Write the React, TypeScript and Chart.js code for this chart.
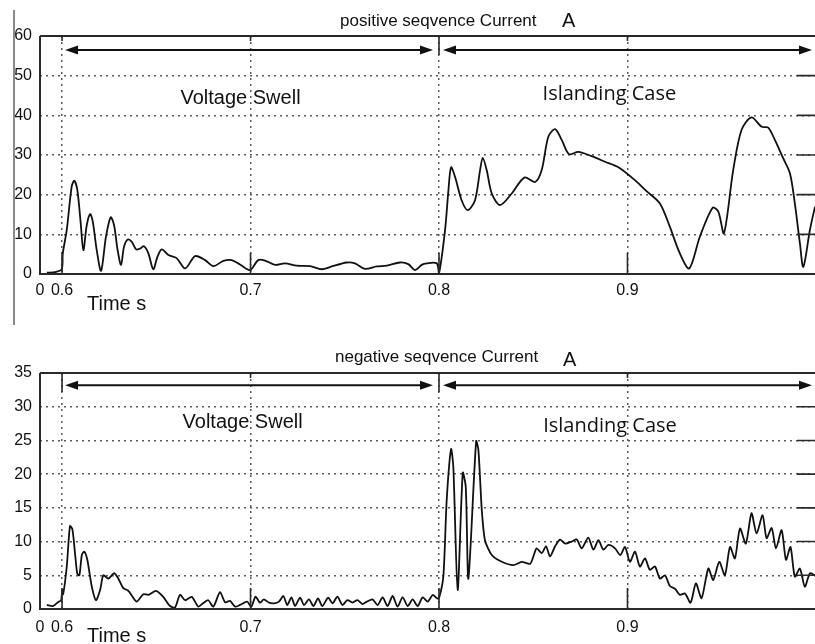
import React, { useEffect, useRef } from "react";
import { Chart, registerables } from "chart.js";

Chart.register(...registerables);

// ---------- shared axis data ----------
const xMin = 0.5883;
const xMax = 0.9995;
const xTickValues = [0.5883, 0.6, 0.7, 0.8, 0.9];
const xTickLabels = ["0", "0.6", "0.7", "0.8", "0.9"];
const majorTimes = [0.6, 0.7, 0.8, 0.9];

// ---------- positive sequence current ----------
const posTitle = "positive seqvence Current";
const posYTicks = [0, 10, 20, 30, 40, 50, 60];
const posTimes = [
  0.5919, 0.5963, 0.5998, 0.6004, 0.6025, 0.6051, 0.6065, 0.6081, 0.6099, 0.6113,
  0.6131, 0.6149, 0.6163, 0.6184, 0.6207, 0.6233, 0.6258, 0.6276, 0.6295, 0.6313,
  0.6329, 0.6349, 0.637, 0.6393, 0.6414, 0.6435, 0.6458, 0.6484, 0.6506, 0.6529,
  0.6564, 0.6608, 0.6653, 0.6706, 0.6759, 0.6803, 0.6856, 0.69, 0.6944, 0.6997,
  0.7041, 0.7077, 0.713, 0.7183, 0.7245, 0.7316, 0.7378, 0.7431, 0.751, 0.7554,
  0.7607, 0.7669, 0.7723, 0.7793, 0.7837, 0.7873, 0.7908, 0.7935, 0.7988, 0.8,
  0.8032, 0.805, 0.8064, 0.8085, 0.812, 0.8152, 0.8191, 0.8218, 0.8232, 0.8253,
  0.828, 0.8324, 0.8386, 0.8453, 0.851, 0.8545, 0.858, 0.8616, 0.8651, 0.869,
  0.8739, 0.881, 0.8881, 0.8952, 0.9048, 0.9101, 0.9172, 0.9225, 0.9278, 0.9328,
  0.9384, 0.9452, 0.9482, 0.9512, 0.9561, 0.9605, 0.9658, 0.9712, 0.9747, 0.9782,
  0.9826, 0.9862, 0.9888, 0.9915, 0.9933, 0.9968, 0.9995,
];
const posValues = [
  0.33, 0.5, 1.2, 5.2, 11.1, 22.0, 23.5, 21.2, 12.8, 6.0,
  12.3, 15.1, 13.2, 6.0, 0.8, 9.4, 14.3, 12.3, 6.0, 2.3,
  6.9, 8.7, 8.1, 6.2, 6.4, 7.0, 5.2, 1.2, 4.3, 6.2,
  4.8, 4.0, 1.4, 4.5, 3.5, 2.0, 3.3, 3.5, 2.4, 1.0,
  3.5, 3.4, 2.3, 2.7, 2.1, 2.0, 1.2, 1.9, 2.9, 2.7,
  1.3, 1.9, 2.1, 2.9, 2.5, 1.0, 2.3, 2.7, 2.7, 0.2,
  11.0, 21.1, 26.9, 24.5, 18.6, 16.1, 18.6, 26.2, 29.3, 26.2,
  20.3, 17.4, 20.3, 24.3, 23.2, 26.2, 34.6, 36.5, 33.8, 30.2,
  30.8, 29.7, 28.3, 26.9, 23.3, 20.9, 17.8, 11.9, 5.2, 1.4,
  9.4, 16.7, 15.7, 10.3, 26.2, 36.3, 39.5, 37.1, 36.9, 33.8,
  29.2, 25.4, 17.8, 7.7, 1.8, 11.1, 17.0,
];

// ---------- negative sequence current ----------
const negTitle = "negative seqvence Current";
const negYTicks = [0, 5, 10, 15, 20, 25, 30, 35];
const negTimes = [
  0.5919, 0.5952, 0.598, 0.5995, 0.6001, 0.6006, 0.6025, 0.6042, 0.6055, 0.6069,
  0.6081, 0.6092, 0.6105, 0.6118, 0.6134, 0.6158, 0.618, 0.6202, 0.6219, 0.6246,
  0.6276, 0.6299, 0.6325, 0.6352, 0.6396, 0.6431, 0.6458, 0.6499, 0.6537, 0.6573,
  0.66, 0.6626, 0.6653, 0.6688, 0.6723, 0.675, 0.6776, 0.6803, 0.6838, 0.6865,
  0.6891, 0.6918, 0.6944, 0.6982, 0.7004, 0.7027, 0.705, 0.7071, 0.7098, 0.7124,
  0.7151, 0.7174, 0.7195, 0.7217, 0.7236, 0.7263, 0.7284, 0.731, 0.7334, 0.7358,
  0.7381, 0.7412, 0.7435, 0.7461, 0.7488, 0.7514, 0.7541, 0.7568, 0.7594, 0.7617,
  0.7647, 0.7674, 0.7701, 0.7727, 0.7754, 0.778, 0.7807, 0.7834, 0.786, 0.7887,
  0.7913, 0.794, 0.7967, 0.799, 0.8, 0.8023, 0.8041, 0.8064, 0.8076, 0.8099,
  0.8126, 0.8142, 0.8156, 0.8197, 0.8209, 0.8227, 0.8244, 0.828, 0.8333, 0.8395,
  0.8439, 0.8483, 0.8501, 0.8518, 0.8545, 0.8568, 0.8589, 0.8616, 0.8642, 0.8669,
  0.8704, 0.8731, 0.8757, 0.8792, 0.8819, 0.8846, 0.8872, 0.8899, 0.8934, 0.8962,
  0.8987, 0.9013, 0.904, 0.9066, 0.9093, 0.9119, 0.9146, 0.9172, 0.9199, 0.9225,
  0.9252, 0.9278, 0.9305, 0.9335, 0.9363, 0.9393, 0.9429, 0.9455, 0.9487, 0.9517,
  0.9544, 0.957, 0.9597, 0.9628, 0.9658, 0.9685, 0.9717, 0.9738, 0.9765, 0.9788,
  0.9818, 0.9841, 0.9865, 0.9888, 0.9915, 0.9941, 0.9968, 0.9994,
];
const negValues = [
  0.6, 0.44, 1.04, 1.3, 2.8, 2.2, 6.3, 12.3, 11.8, 8.2,
  5.2, 5.0, 8.0, 8.5, 7.3, 3.3, 1.3, 2.8, 5.0, 4.5,
  5.3, 4.5, 3.1, 2.7, 1.1, 2.2, 2.1, 2.7, 1.8, 0.44,
  0.25, 2.1, 1.3, 1.8, 0.35, 0.9, 1.3, 0.35, 2.5, 1.0,
  1.2, 0.35, 0.6, 1.09, 0.35, 1.83, 0.94, 1.43, 0.94, 0.84,
  1.09, 1.93, 0.59, 1.73, 0.44, 1.68, 0.59, 1.43, 0.44, 1.58,
  0.44, 1.68, 0.84, 1.83, 0.59, 1.33, 0.94, 1.33, 0.74, 1.09,
  1.43, 0.59, 1.73, 0.44, 1.93, 0.35, 1.73, 0.44, 1.43, 0.44,
  1.73, 1.09, 2.08, 1.58, 1.6, 4.8, 16.2, 23.7, 21.1, 2.8,
  20.2, 18.1, 4.5, 24.9, 23.6, 14.7, 10.2, 8.0, 7.0, 6.5,
  7.0, 6.7, 7.8, 9.0, 8.3, 9.3, 7.8, 9.3, 10.3, 9.7,
  10.0, 10.3, 9.0, 10.6, 8.8, 10.2, 8.8, 9.5, 9.0, 8.0,
  9.2, 7.0, 8.5, 6.3, 7.5, 5.8, 6.3, 4.5, 5.0, 3.4,
  3.0, 2.1, 2.3, 0.94, 3.8, 1.6, 6.0, 4.3, 7.0, 5.0,
  9.2, 7.5, 11.95, 9.7, 14.2, 11.2, 13.9, 10.5, 12.0, 9.0,
  11.7, 7.3, 9.2, 4.8, 6.0, 3.3, 5.3, 5.0,
];

const FONT = "'Liberation Sans', Arial, sans-serif";
const INK = "#111111";
const PLOT_LEFT = 40;

type Panel = {
  title: string;
  times: number[];
  values: number[];
  yTicks: number[];
  yMax: number;
  height: number;
  padTop: number;
  padBottom: number;
  xLabelPad: number;
  titleX: number;
  titleBase: number;
  aX: number;
  aBase: number;
  arrowLevel: number;
  swellLevel: number;
  islandLevel: number;
  swellT: number;
  islandT: number;
  longTop: number[];
  timeBase: number;
  leftBorder: boolean;
  tension: number;
};

const panels: Panel[] = [
  {
    title: posTitle, times: posTimes, values: posValues, yTicks: posYTicks, yMax: 60,
    height: 330, padTop: 36, padBottom: 56, xLabelPad: 7,
    titleX: 340, titleBase: 26, aX: 562, aBase: 27,
    arrowLevel: 56.5, swellLevel: 42.8, islandLevel: 43.9, swellT: 0.6947, islandT: 0.8904,
    longTop: [0.8], timeBase: 310, leftBorder: true, tension: 0.3,
  },
  {
    title: negTitle, times: negTimes, values: negValues, yTicks: negYTicks, yMax: 35,
    height: 314, padTop: 43, padBottom: 35, xLabelPad: 9,
    titleX: 335, titleBase: 32, aX: 563, aBase: 36,
    arrowLevel: 33.2, swellLevel: 26.8, islandLevel: 26.3, swellT: 0.6958, islandT: 0.8907,
    longTop: [0.6, 0.8], timeBase: 312, leftBorder: false, tension: 0.25,
  },
];

function drawArrow(ctx: CanvasRenderingContext2D, x1: number, x2: number, y: number) {
  ctx.lineWidth = 2;
  ctx.beginPath();
  ctx.moveTo(x1 + 8, y);
  ctx.lineTo(x2 - 8, y);
  ctx.stroke();
  ctx.beginPath();
  ctx.moveTo(x1, y);
  ctx.lineTo(x1 + 13, y - 4.5);
  ctx.lineTo(x1 + 13, y + 4.5);
  ctx.closePath();
  ctx.fill();
  ctx.beginPath();
  ctx.moveTo(x2, y);
  ctx.lineTo(x2 - 13, y - 4.5);
  ctx.lineTo(x2 - 13, y + 4.5);
  ctx.closePath();
  ctx.fill();
}

function makeDeco(p: Panel) {
  return {
    id: "deco",
    afterDraw(chart: any) {
      const { ctx, chartArea: a, scales } = chart;
      const xs = scales.x;
      const ys = scales.y;
      ctx.save();
      if (p.leftBorder) {
        ctx.strokeStyle = "#8a8a8a";
        ctx.lineWidth = 2;
        ctx.beginPath();
        ctx.moveTo(14, 10);
        ctx.lineTo(14, 325);
        ctx.stroke();
      }
      ctx.strokeStyle = "#2a2a2a";
      ctx.lineWidth = 2;
      ctx.beginPath();
      ctx.moveTo(a.left, a.top);
      ctx.lineTo(a.right, a.top);
      ctx.moveTo(a.left, a.top);
      ctx.lineTo(a.left, a.bottom);
      ctx.moveTo(a.left - 1, a.bottom);
      ctx.lineTo(a.right, a.bottom);
      ctx.stroke();
      ctx.lineWidth = 1.6;
      ctx.beginPath();
      majorTimes.forEach((t) => {
        const px = xs.getPixelForValue(t);
        ctx.moveTo(px, a.bottom);
        ctx.lineTo(px, a.bottom - 21);
        const len = p.longTop.includes(t) ? 19 : 5;
        ctx.moveTo(px, a.top);
        ctx.lineTo(px, a.top + len);
      });
      p.yTicks.forEach((v) => {
        const py = ys.getPixelForValue(v);
        ctx.moveTo(a.right - 18, py);
        ctx.lineTo(a.right, py);
      });
      ctx.stroke();
      ctx.strokeStyle = INK;
      ctx.fillStyle = INK;
      const ay = ys.getPixelForValue(p.arrowLevel);
      const p6 = xs.getPixelForValue(0.6);
      const p8 = xs.getPixelForValue(0.8);
      drawArrow(ctx, p6 + 3, p8 - 6, ay);
      drawArrow(ctx, p8 + 4, a.right - 3, ay);
      ctx.textBaseline = "alphabetic";
      ctx.textAlign = "center";
      ctx.font = `20px ${FONT}`;
      ctx.fillText("Voltage Swell", xs.getPixelForValue(p.swellT), ys.getPixelForValue(p.swellLevel));
      ctx.font = `20px 'Open Sans', 'Noto Sans', sans-serif`;
      ctx.fillText("Islanding Case", xs.getPixelForValue(p.islandT), ys.getPixelForValue(p.islandLevel));
      ctx.textAlign = "left";
      ctx.font = `17px ${FONT}`;
      ctx.fillText(p.title, p.titleX, p.titleBase);
      ctx.font = `20px ${FONT}`;
      ctx.fillText("A", p.aX, p.aBase);
      ctx.font = `20px ${FONT}`;
      ctx.fillText("Time s", 87, p.timeBase);
      ctx.restore();
    },
  };
}

function PanelChart({ p }: { p: Panel }) {
  const ref = useRef<HTMLCanvasElement | null>(null);
  useEffect(() => {
    if (!ref.current) return;
    const pts = p.times.map((t, i) => ({ x: t, y: p.values[i] }));
    const chart = new Chart(ref.current, {
      type: "line",
      data: {
        datasets: [
          {
            data: pts,
            borderColor: "#111111",
            borderWidth: 1.8,
            pointRadius: 0,
            fill: false,
            tension: p.tension,
          } as any,
        ],
      },
      plugins: [makeDeco(p)],
      options: {
        animation: false,
        responsive: false,
        devicePixelRatio: 1,
        events: [],
        layout: { padding: { left: 0, top: p.padTop, right: 0, bottom: 0 } },
        plugins: { legend: { display: false }, tooltip: { enabled: false }, title: { display: false } },
        scales: {
          x: {
            type: "linear",
            min: xMin,
            max: xMax,
            afterBuildTicks: (s: any) => {
              s.ticks = xTickValues.map((v) => ({ value: v }));
            },
            afterFit: (s: any) => {
              s.height = p.padBottom;
            },
            grid: {
              color: (c: any) => (c.tick && c.tick.value === xMin ? "rgba(0,0,0,0)" : "#5a5a5a"),
              lineWidth: 1.5,
              drawTicks: false,
            },
            border: { display: false, dash: [2, 4] },
            ticks: {
              autoSkip: false,
              maxRotation: 0,
              padding: p.xLabelPad,
              color: INK,
              font: { family: FONT, size: 16 },
              callback: (v: any) => {
                const i = xTickValues.indexOf(Number(v));
                return i >= 0 ? xTickLabels[i] : "";
              },
            },
          },
          y: {
            type: "linear",
            min: 0,
            max: p.yMax,
            afterBuildTicks: (s: any) => {
              s.ticks = p.yTicks.map((v) => ({ value: v }));
            },
            afterFit: (s: any) => {
              s.width = PLOT_LEFT;
            },
            grid: {
              color: (c: any) =>
                c.tick && (c.tick.value === 0 || c.tick.value === p.yMax) ? "rgba(0,0,0,0)" : "#5a5a5a",
              lineWidth: 1.5,
              drawTicks: false,
            },
            border: { display: false, dash: [2, 4] },
            ticks: {
              padding: 8,
              color: INK,
              font: { family: FONT, size: 16 },
              callback: (v: any) => String(v),
            },
          },
        },
      } as any,
    });
    return () => chart.destroy();
  }, [p]);
  return <canvas ref={ref} width={815} height={p.height} style={{ display: "block" }} />;
}

export default function App() {
  return (
    <div style={{ position: "absolute", left: 0, top: 0, width: 815, height: 644, background: "#ffffff", overflow: "hidden" }}>
      {panels.map((p, i) => (
        <PanelChart key={i} p={p} />
      ))}
    </div>
  );
}
